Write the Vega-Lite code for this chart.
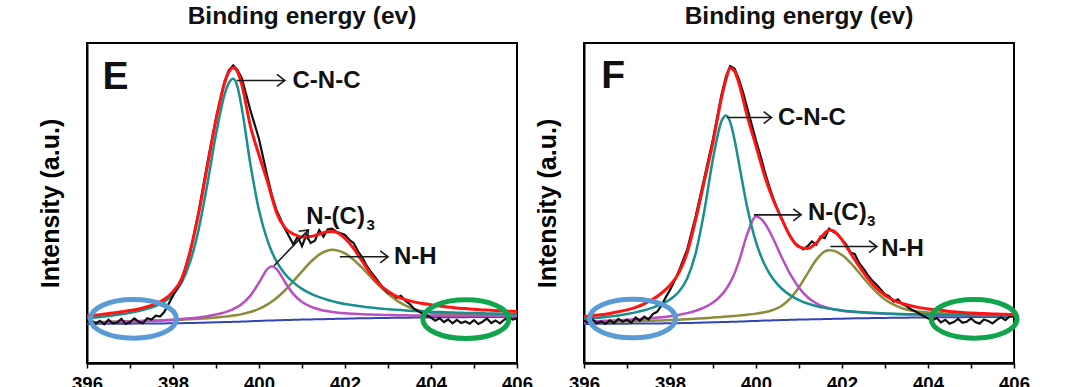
{
"$schema": "https://vega.github.io/schema/vega-lite/v6.json",
"background": "white",
"padding": {"left": 37, "top": 3, "right": 5, "bottom": 5},
"bounds": "flush",
"spacing": 67,
"config": {
  "view": {"stroke": "black", "strokeWidth": 2},
  "font": "Liberation Sans",
  "axis": {"grid": false, "domainColor": "black", "tickColor": "black", "labelColor": "black", "titleColor": "black"},
  "title": {"fontSize": 24.5, "fontWeight": "bold", "color": "#111111", "offset": 13.5, "anchor": "middle", "font": "Liberation Sans"}
},
"datasets": {
  "fitE": [
{"x":396,"b":12.2,"t":14.02,"m":12.65,"o":12.72,"r":14.8},
{"x":396.2,"b":12.22,"t":14.25,"m":12.71,"o":12.77,"r":15.0},
{"x":396.4,"b":12.24,"t":14.52,"m":12.77,"o":12.83,"r":15.3},
{"x":396.6,"b":12.26,"t":14.84,"m":12.83,"o":12.89,"r":15.6},
{"x":396.8,"b":12.28,"t":15.22,"m":12.9,"o":12.95,"r":16.0},
{"x":397,"b":12.3,"t":15.67,"m":12.97,"o":13.01,"r":16.4},
{"x":397.2,"b":12.32,"t":16.22,"m":13.06,"o":13.08,"r":16.9},
{"x":397.4,"b":12.34,"t":16.92,"m":13.15,"o":13.16,"r":17.6},
{"x":397.6,"b":12.36,"t":17.84,"m":13.26,"o":13.24,"r":18.5},
{"x":397.8,"b":12.38,"t":19.17,"m":13.38,"o":13.32,"r":19.9},
{"x":398,"b":12.4,"t":21.33,"m":13.52,"o":13.42,"r":22.3},
{"x":398.2,"b":12.45,"t":25.12,"m":13.72,"o":13.54,"r":26.3},
{"x":398.4,"b":12.5,"t":31.66,"m":13.96,"o":13.68,"r":35.0},
{"x":398.6,"b":12.56,"t":41.98,"m":14.25,"o":13.84,"r":47.0},
{"x":398.8,"b":12.62,"t":55.99,"m":14.62,"o":14.0,"r":61.5},
{"x":399,"b":12.7,"t":71.46,"m":15.13,"o":14.23,"r":76.0},
{"x":399.2,"b":12.78,"t":83.96,"m":15.83,"o":14.49,"r":87.5},
{"x":399.3,"b":12.82,"t":87.57,"m":16.28,"o":14.64,"r":91.0},
{"x":399.4,"b":12.86,"t":88.86,"m":16.85,"o":14.81,"r":92.3},
{"x":399.5,"b":12.9,"t":86.3,"m":17.55,"o":15.02,"r":91.0},
{"x":399.6,"b":12.95,"t":79.65,"m":18.45,"o":15.27,"r":87.0},
{"x":399.8,"b":13.05,"t":62.15,"m":21.06,"o":15.94,"r":74.0},
{"x":400,"b":13.15,"t":47.75,"m":25.1,"o":16.91,"r":65.0},
{"x":400.2,"b":13.25,"t":38.15,"m":29.39,"o":18.31,"r":56.5},
{"x":400.3,"b":13.3,"t":34.7,"m":30.2,"o":19.2,"r":51.8},
{"x":400.4,"b":13.34,"t":31.94,"m":29.48,"o":20.22,"r":47.3},
{"x":400.6,"b":13.42,"t":27.92,"m":25.37,"o":22.66,"r":42.3},
{"x":400.8,"b":13.5,"t":25.2,"m":21.51,"o":25.55,"r":40.3},
{"x":401,"b":13.56,"t":23.16,"m":19.06,"o":28.64,"r":39.4},
{"x":401.2,"b":13.62,"t":21.68,"m":17.61,"o":31.56,"r":39.5},
{"x":401.4,"b":13.68,"t":20.57,"m":16.73,"o":33.87,"r":40.3},
{"x":401.6,"b":13.74,"t":19.71,"m":16.17,"o":35.18,"r":41.0},
{"x":401.7,"b":13.77,"t":19.34,"m":15.97,"o":35.37,"r":41.1},
{"x":401.8,"b":13.8,"t":19.01,"m":15.8,"o":35.26,"r":40.8},
{"x":402,"b":13.86,"t":18.46,"m":15.55,"o":34.23,"r":38.9},
{"x":402.2,"b":13.92,"t":18.02,"m":15.38,"o":32.29,"r":35.8},
{"x":402.4,"b":13.97,"t":17.63,"m":15.24,"o":29.72,"r":31.8},
{"x":402.6,"b":14.02,"t":17.32,"m":15.14,"o":26.88,"r":27.8},
{"x":402.8,"b":14.06,"t":17.04,"m":15.06,"o":24.1,"r":24.6},
{"x":403,"b":14.1,"t":16.81,"m":15.0,"o":21.62,"r":22.4},
{"x":403.2,"b":14.13,"t":16.61,"m":14.94,"o":19.58,"r":20.8},
{"x":403.4,"b":14.16,"t":16.43,"m":14.9,"o":18.02,"r":19.8},
{"x":403.6,"b":14.19,"t":16.27,"m":14.86,"o":16.91,"r":19.1},
{"x":403.8,"b":14.22,"t":16.14,"m":14.84,"o":16.17,"r":18.6},
{"x":404,"b":14.25,"t":16.03,"m":14.82,"o":15.69,"r":18.2},
{"x":404.2,"b":14.27,"t":15.92,"m":14.8,"o":15.39,"r":17.8},
{"x":404.4,"b":14.29,"t":15.82,"m":14.78,"o":15.21,"r":17.5},
{"x":404.6,"b":14.31,"t":15.74,"m":14.76,"o":15.11,"r":17.2},
{"x":404.8,"b":14.33,"t":15.66,"m":14.75,"o":15.04,"r":17.0},
{"x":405,"b":14.35,"t":15.6,"m":14.75,"o":14.98,"r":16.8},
{"x":405.2,"b":14.36,"t":15.53,"m":14.73,"o":14.94,"r":16.6},
{"x":405.4,"b":14.37,"t":15.47,"m":14.72,"o":14.91,"r":16.5},
{"x":405.6,"b":14.38,"t":15.41,"m":14.71,"o":14.88,"r":16.3},
{"x":405.8,"b":14.39,"t":15.36,"m":14.7,"o":14.86,"r":16.2},
{"x":406,"b":14.4,"t":15.33,"m":14.7,"o":14.84,"r":16.1}
  ],
  "fitF": [
{"x":396,"b":12.2,"t":13.76,"m":12.95,"o":12.72,"r":14.5},
{"x":396.2,"b":12.22,"t":13.98,"m":13.03,"o":12.77,"r":14.8},
{"x":396.4,"b":12.24,"t":14.22,"m":13.13,"o":12.83,"r":15.1},
{"x":396.6,"b":12.26,"t":14.52,"m":13.23,"o":12.89,"r":15.5},
{"x":396.8,"b":12.28,"t":14.87,"m":13.35,"o":12.95,"r":16.0},
{"x":397,"b":12.3,"t":15.3,"m":13.48,"o":13.01,"r":16.6},
{"x":397.2,"b":12.32,"t":15.82,"m":13.64,"o":13.08,"r":17.4},
{"x":397.4,"b":12.34,"t":16.48,"m":13.82,"o":13.15,"r":18.5},
{"x":397.6,"b":12.36,"t":17.3,"m":14.03,"o":13.23,"r":19.9},
{"x":397.8,"b":12.38,"t":18.37,"m":14.29,"o":13.32,"r":21.8},
{"x":398,"b":12.4,"t":19.84,"m":14.6,"o":13.41,"r":24.3},
{"x":398.2,"b":12.45,"t":22.17,"m":15.03,"o":13.54,"r":28.0},
{"x":398.4,"b":12.5,"t":26.41,"m":15.58,"o":13.68,"r":34.5},
{"x":398.6,"b":12.56,"t":34.46,"m":16.32,"o":13.83,"r":45.0},
{"x":398.8,"b":12.62,"t":47.69,"m":17.36,"o":13.99,"r":57.0},
{"x":399,"b":12.7,"t":63.84,"m":18.91,"o":14.19,"r":69.0},
{"x":399.2,"b":12.78,"t":75.6,"m":21.3,"o":14.39,"r":83.0},
{"x":399.3,"b":12.82,"t":77.32,"m":22.99,"o":14.5,"r":88.5},
{"x":399.4,"b":12.86,"t":75.29,"m":25.19,"o":14.61,"r":92.2},
{"x":399.5,"b":12.9,"t":69.87,"m":28.0,"o":14.72,"r":91.2},
{"x":399.6,"b":12.95,"t":62.66,"m":31.58,"o":14.84,"r":87.5},
{"x":399.8,"b":13.05,"t":48.36,"m":40.43,"o":15.11,"r":77.0},
{"x":400,"b":13.15,"t":37.77,"m":45.75,"o":15.43,"r":67.8},
{"x":400.2,"b":13.25,"t":30.79,"m":43.78,"o":15.86,"r":58.5},
{"x":400.3,"b":13.3,"t":28.28,"m":41.55,"o":16.18,"r":54.5},
{"x":400.4,"b":13.34,"t":26.24,"m":38.82,"o":16.59,"r":51.0},
{"x":400.6,"b":13.42,"t":23.21,"m":32.98,"o":17.9,"r":45.0},
{"x":400.8,"b":13.5,"t":21.14,"m":27.67,"o":20.2,"r":39.5},
{"x":401,"b":13.56,"t":19.67,"m":23.5,"o":23.67,"r":36.3},
{"x":401.2,"b":13.62,"t":18.61,"m":20.56,"o":28.01,"r":35.8},
{"x":401.4,"b":13.68,"t":17.82,"m":18.66,"o":32.23,"r":37.5},
{"x":401.6,"b":13.74,"t":17.23,"m":17.49,"o":34.89,"r":40.6},
{"x":401.7,"b":13.77,"t":16.99,"m":17.09,"o":35.27,"r":41.6},
{"x":401.8,"b":13.8,"t":16.78,"m":16.78,"o":35.12,"r":41.3},
{"x":402,"b":13.86,"t":16.43,"m":16.34,"o":33.76,"r":38.5},
{"x":402.2,"b":13.92,"t":16.16,"m":16.04,"o":31.29,"r":34.3},
{"x":402.4,"b":13.97,"t":15.94,"m":15.82,"o":28.19,"r":30.2},
{"x":402.6,"b":14.02,"t":15.76,"m":15.66,"o":25.0,"r":26.5},
{"x":402.8,"b":14.06,"t":15.61,"m":15.52,"o":22.15,"r":23.4},
{"x":403,"b":14.1,"t":15.49,"m":15.41,"o":19.87,"r":21.2},
{"x":403.2,"b":14.13,"t":15.39,"m":15.32,"o":18.21,"r":19.6},
{"x":403.4,"b":14.16,"t":15.3,"m":15.24,"o":17.11,"r":18.6},
{"x":403.6,"b":14.19,"t":15.23,"m":15.17,"o":16.42,"r":17.9},
{"x":403.8,"b":14.22,"t":15.17,"m":15.12,"o":16.01,"r":17.3},
{"x":404,"b":14.25,"t":15.12,"m":15.08,"o":15.77,"r":16.9},
{"x":404.2,"b":14.27,"t":15.07,"m":15.03,"o":15.61,"r":16.6},
{"x":404.4,"b":14.29,"t":15.03,"m":14.99,"o":15.5,"r":16.3},
{"x":404.6,"b":14.31,"t":15.0,"m":14.97,"o":15.41,"r":16.0},
{"x":404.8,"b":14.33,"t":14.97,"m":14.94,"o":15.35,"r":15.8},
{"x":405,"b":14.35,"t":14.95,"m":14.91,"o":15.29,"r":15.6},
{"x":405.2,"b":14.36,"t":14.92,"m":14.89,"o":15.23,"r":15.5},
{"x":405.4,"b":14.37,"t":14.89,"m":14.86,"o":15.18,"r":15.4},
{"x":405.6,"b":14.38,"t":14.87,"m":14.84,"o":15.13,"r":15.3},
{"x":405.8,"b":14.39,"t":14.85,"m":14.82,"o":15.09,"r":15.2},
{"x":406,"b":14.4,"t":14.83,"m":14.81,"o":15.05,"r":15.1}
  ],
  "expE": [
{"x":396.0,"y":12.6},{"x":396.1,"y":13.4},{"x":396.2,"y":12.3},{"x":396.3,"y":13.2},{"x":396.4,"y":12.1},{"x":396.5,"y":13.5},{"x":396.6,"y":12.4},{"x":396.7,"y":12.6},{"x":396.8,"y":13.8},{"x":396.9,"y":12.2},
{"x":397.0,"y":12.8},{"x":397.1,"y":13.9},{"x":397.2,"y":12.9},{"x":397.3,"y":12.4},{"x":397.4,"y":14.0},{"x":397.5,"y":13.6},{"x":397.6,"y":14.8},{"x":397.7,"y":14.5},{"x":397.8,"y":16.0},{"x":397.9,"y":18.5},
{"x":398.0,"y":21.0},{"x":398.1,"y":23.5},{"x":398.2,"y":25.8},{"x":398.4,"y":34.5},{"x":398.6,"y":47.5},{"x":398.8,"y":62.5},{"x":399.0,"y":76.5},{"x":399.2,"y":88.0},{"x":399.3,"y":91.5},{"x":399.4,"y":93.0},
{"x":399.5,"y":91.5},{"x":399.6,"y":89.0},{"x":399.7,"y":84.0},{"x":399.8,"y":79.0},{"x":399.9,"y":74.5},{"x":400.0,"y":70.0},{"x":400.1,"y":64.0},{"x":400.2,"y":58.0},{"x":400.3,"y":52.5},{"x":400.4,"y":48.0},
{"x":400.5,"y":45.0},{"x":400.6,"y":42.0},{"x":400.7,"y":39.5},{"x":400.8,"y":37.0},{"x":400.9,"y":39.5},{"x":401.0,"y":36.5},{"x":401.1,"y":40.0},{"x":401.2,"y":37.5},{"x":401.3,"y":38.2},{"x":401.4,"y":41.5},
{"x":401.5,"y":39.5},{"x":401.6,"y":41.8},{"x":401.7,"y":42.0},{"x":401.8,"y":41.0},{"x":401.9,"y":40.5},{"x":402.0,"y":40.0},{"x":402.1,"y":38.5},{"x":402.2,"y":37.5},{"x":402.3,"y":35.0},{"x":402.4,"y":33.0},
{"x":402.5,"y":30.5},{"x":402.6,"y":28.5},{"x":402.7,"y":26.8},{"x":402.8,"y":25.0},{"x":402.9,"y":23.2},{"x":403.0,"y":22.0},{"x":403.1,"y":21.5},{"x":403.2,"y":20.4},{"x":403.3,"y":21.0},{"x":403.4,"y":19.5},
{"x":403.5,"y":18.5},{"x":403.6,"y":17.0},{"x":403.8,"y":15.5},{"x":404.0,"y":14.2},{"x":404.1,"y":13.2},{"x":404.2,"y":14.0},{"x":404.3,"y":12.8},{"x":404.4,"y":13.6},{"x":404.5,"y":12.4},{"x":404.6,"y":13.5},
{"x":404.7,"y":12.5},{"x":404.8,"y":13.0},{"x":404.9,"y":12.3},{"x":405.0,"y":13.4},{"x":405.1,"y":12.2},{"x":405.2,"y":12.9},{"x":405.3,"y":13.9},{"x":405.4,"y":12.5},{"x":405.5,"y":13.3},{"x":405.6,"y":12.4},
{"x":405.7,"y":13.5},{"x":405.8,"y":14.2},{"x":405.9,"y":13.6},{"x":406.0,"y":14.0}
  ],
  "expF": [
{"x":396.0,"y":13.3},{"x":396.1,"y":12.6},{"x":396.2,"y":13.6},{"x":396.3,"y":12.4},{"x":396.4,"y":13.0},{"x":396.5,"y":12.2},{"x":396.6,"y":13.3},{"x":396.7,"y":12.5},{"x":396.8,"y":13.8},{"x":396.9,"y":12.9},
{"x":397.0,"y":13.5},{"x":397.1,"y":12.6},{"x":397.2,"y":14.2},{"x":397.3,"y":13.2},{"x":397.4,"y":14.5},{"x":397.5,"y":13.6},{"x":397.6,"y":15.3},{"x":397.7,"y":16.0},{"x":397.8,"y":17.9},{"x":397.9,"y":20.5},
{"x":398.0,"y":22.8},{"x":398.1,"y":25.5},{"x":398.2,"y":28.5},{"x":398.4,"y":35.5},{"x":398.6,"y":46.0},{"x":398.8,"y":58.0},{"x":399.0,"y":70.0},{"x":399.2,"y":84.0},{"x":399.3,"y":89.5},{"x":399.4,"y":92.8},
{"x":399.5,"y":92.0},{"x":399.6,"y":88.8},{"x":399.7,"y":84.5},{"x":399.8,"y":79.5},{"x":399.9,"y":74.5},{"x":400.0,"y":69.5},{"x":400.1,"y":65.0},{"x":400.2,"y":60.0},{"x":400.3,"y":55.5},{"x":400.4,"y":51.5},
{"x":400.5,"y":48.0},{"x":400.6,"y":45.0},{"x":400.7,"y":42.0},{"x":400.8,"y":39.5},{"x":400.9,"y":37.5},{"x":401.0,"y":36.5},{"x":401.1,"y":35.5},{"x":401.2,"y":36.5},{"x":401.3,"y":38.0},{"x":401.4,"y":37.0},
{"x":401.5,"y":39.5},{"x":401.6,"y":39.0},{"x":401.7,"y":42.0},{"x":401.8,"y":41.0},{"x":401.9,"y":40.2},{"x":402.0,"y":38.5},{"x":402.1,"y":37.0},{"x":402.2,"y":34.5},{"x":402.3,"y":34.0},{"x":402.4,"y":31.2},
{"x":402.5,"y":29.5},{"x":402.6,"y":27.5},{"x":402.7,"y":25.8},{"x":402.8,"y":24.5},{"x":402.9,"y":23.0},{"x":403.0,"y":21.5},{"x":403.1,"y":20.8},{"x":403.2,"y":19.2},{"x":403.3,"y":19.9},{"x":403.4,"y":18.4},
{"x":403.5,"y":17.8},{"x":403.6,"y":16.8},{"x":403.7,"y":16.2},{"x":403.8,"y":15.4},{"x":403.9,"y":14.6},{"x":404.0,"y":14.0},{"x":404.1,"y":13.2},{"x":404.2,"y":14.1},{"x":404.3,"y":12.7},{"x":404.4,"y":13.5},
{"x":404.5,"y":12.3},{"x":404.6,"y":12.8},{"x":404.7,"y":13.8},{"x":404.8,"y":12.6},{"x":404.9,"y":12.9},{"x":405.0,"y":13.9},{"x":405.1,"y":12.8},{"x":405.2,"y":12.3},{"x":405.3,"y":13.6},{"x":405.4,"y":13.1},
{"x":405.5,"y":12.4},{"x":405.6,"y":13.5},{"x":405.7,"y":14.3},{"x":405.8,"y":13.4},{"x":405.9,"y":14.6},{"x":406.0,"y":14.8}
  ],
  "arrE": [{"x":399.48,"y":88.3,"x2":400.6,"y2":88.3,"ang":0},{"x":400.35,"y":30.4,"x2":401.15,"y2":41.6,"ang":314},{"x":401.88,"y":33.2,"x2":403.0,"y2":33.2,"ang":0}],
  "arrF": [{"x":399.32,"y":76.7,"x2":400.36,"y2":76.7,"ang":0},{"x":399.95,"y":46.3,"x2":401.05,"y2":46.3,"ang":0},{"x":401.73,"y":36.4,"x2":402.81,"y2":36.4,"ang":0}],
  "lblE": [{"x":400.78,"y":88.0,"t":"C-N-C"},{"x":401.1,"y":45.5,"t":"N-(C)"},{"x":403.14,"y":33.2,"t":"N-H"}],
  "subE": [{"x":402.5,"y":43.0,"t":"3"}],
  "lblF": [{"x":400.51,"y":76.7,"t":"C-N-C"},{"x":401.21,"y":46.9,"t":"N-(C)"},{"x":402.91,"y":35.6,"t":"N-H"}],
  "subF": [{"x":402.58,"y":44.4,"t":"3"}],
  "letE": [{"x":396.36,"y":85.6,"t":"E"}],
  "letF": [{"x":396.4,"y":86.0,"t":"F"}],
  "ellE": [{"x":397.08,"y":13.8,"k":"left"},{"x":404.81,"y":13.7,"k":"right"}],
  "ellF": [{"x":397.13,"y":13.9,"k":"left"},{"x":405.07,"y":13.8,"k":"right"}]
},
"hconcat": [
{
  "width": 430, "height": 320,
  "title": {"text": "Binding energy (ev)"},
  "layer": [
    {"data": {"name": "fitE"}, "mark": {"type": "line", "color": "#3344bb", "strokeWidth": 2, "interpolate": "monotone"},
     "encoding": {
       "x": {"field": "x", "type": "quantitative", "scale": {"domain": [396, 406], "nice": false},
             "axis": {"title": null, "values": [396,397,398,399,400,401,402,403,404,405,406], "format": "d", "labelExpr": "datum.value % 2 === 0 ? datum.label : ''", "tickSize": 5, "tickWidth": 1.5, "labelFontSize": 18.5, "labelFontWeight": "bold", "labelPadding": 6.5, "labelFlush": false, "labelOverlap": false, "domainWidth": 2.5}},
       "y": {"field": "b", "type": "quantitative", "scale": {"domain": [0, 100], "nice": false},
             "axis": {"title": "Intensity (a.u.)", "labels": false, "ticks": false, "titleFontSize": 25, "titleFontWeight": "bold", "titlePadding": 24, "domainWidth": 2}}}},
    {"data": {"name": "fitE"}, "mark": {"type": "line", "color": "#8c8c3a", "strokeWidth": 2.5, "interpolate": "monotone"},
     "encoding": {"x": {"field": "x", "type": "quantitative", "scale": {"domain": [396, 406]}}, "y": {"field": "o", "type": "quantitative", "scale": {"domain": [0, 100]}}}},
    {"data": {"name": "fitE"}, "mark": {"type": "line", "color": "#b94fc2", "strokeWidth": 2.5, "interpolate": "monotone"},
     "encoding": {"x": {"field": "x", "type": "quantitative", "scale": {"domain": [396, 406]}}, "y": {"field": "m", "type": "quantitative", "scale": {"domain": [0, 100]}}}},
    {"data": {"name": "fitE"}, "mark": {"type": "line", "color": "#178f8f", "strokeWidth": 2.5, "interpolate": "monotone"},
     "encoding": {"x": {"field": "x", "type": "quantitative", "scale": {"domain": [396, 406]}}, "y": {"field": "t", "type": "quantitative", "scale": {"domain": [0, 100]}}}},
    {"data": {"name": "expE"}, "mark": {"type": "line", "color": "#111111", "strokeWidth": 2.2},
     "encoding": {"x": {"field": "x", "type": "quantitative", "scale": {"domain": [396, 406]}}, "y": {"field": "y", "type": "quantitative", "scale": {"domain": [0, 100]}}}},
    {"data": {"name": "fitE"}, "mark": {"type": "line", "color": "#ff1414", "strokeWidth": 3, "interpolate": "monotone"},
     "encoding": {"x": {"field": "x", "type": "quantitative", "scale": {"domain": [396, 406]}}, "y": {"field": "r", "type": "quantitative", "scale": {"domain": [0, 100]}}}},
    {"data": {"name": "arrE"}, "mark": {"type": "rule", "color": "#1a1a1a", "strokeWidth": 1.6},
     "encoding": {"x": {"field": "x", "type": "quantitative", "scale": {"domain": [396, 406]}}, "y": {"field": "y", "type": "quantitative", "scale": {"domain": [0, 100]}}, "x2": {"field": "x2"}, "y2": {"field": "y2"}}},
    {"data": {"name": "arrE"}, "mark": {"type": "point", "shape": "M -1.3 -1 L 0 0 L -1.3 1", "filled": false, "color": "#1a1a1a", "strokeWidth": 1.6, "size": 144, "opacity": 1},
     "encoding": {"x": {"field": "x2", "type": "quantitative", "scale": {"domain": [396, 406]}}, "y": {"field": "y2", "type": "quantitative", "scale": {"domain": [0, 100]}}, "angle": {"field": "ang", "type": "quantitative", "scale": null}}},
    {"data": {"name": "lblE"}, "mark": {"type": "text", "align": "left", "baseline": "middle", "fontSize": 24, "fontWeight": "bold", "color": "#111111"},
     "encoding": {"x": {"field": "x", "type": "quantitative", "scale": {"domain": [396, 406]}}, "y": {"field": "y", "type": "quantitative", "scale": {"domain": [0, 100]}}, "text": {"field": "t"}}},
    {"data": {"name": "subE"}, "mark": {"type": "text", "align": "left", "baseline": "middle", "fontSize": 15, "fontWeight": "bold", "color": "#111111"},
     "encoding": {"x": {"field": "x", "type": "quantitative", "scale": {"domain": [396, 406]}}, "y": {"field": "y", "type": "quantitative", "scale": {"domain": [0, 100]}}, "text": {"field": "t"}}},
    {"data": {"name": "letE"}, "mark": {"type": "text", "align": "left", "baseline": "alphabetic", "fontSize": 39, "fontWeight": "bold", "color": "#111111"},
     "encoding": {"x": {"field": "x", "type": "quantitative", "scale": {"domain": [396, 406]}}, "y": {"field": "y", "type": "quantitative", "scale": {"domain": [0, 100]}}, "text": {"field": "t"}}},
    {"data": {"name": "ellE"}, "mark": {"type": "point", "shape": "M 1 0 C 1 0.2485 0.5523 0.45 0 0.45 C -0.5523 0.45 -1 0.2485 -1 0 C -1 -0.2485 -0.5523 -0.45 0 -0.45 C 0.5523 -0.45 1 -0.2485 1 0 Z", "filled": false, "strokeWidth": 5, "size": 7400, "opacity": 1},
     "encoding": {"x": {"field": "x", "type": "quantitative", "scale": {"domain": [396, 406]}}, "y": {"field": "y", "type": "quantitative", "scale": {"domain": [0, 100]}}, "color": {"field": "k", "type": "nominal", "scale": {"domain": ["left", "right"], "range": ["#5b9bd5", "#10a54d"]}, "legend": null}}}
  ]
},
{
  "width": 430, "height": 320,
  "title": {"text": "Binding energy (ev)"},
  "layer": [
    {"data": {"name": "fitF"}, "mark": {"type": "line", "color": "#3344bb", "strokeWidth": 2, "interpolate": "monotone"},
     "encoding": {
       "x": {"field": "x", "type": "quantitative", "scale": {"domain": [396, 406], "nice": false},
             "axis": {"title": null, "values": [396,397,398,399,400,401,402,403,404,405,406], "format": "d", "labelExpr": "datum.value % 2 === 0 ? datum.label : ''", "tickSize": 5, "tickWidth": 1.5, "labelFontSize": 18.5, "labelFontWeight": "bold", "labelPadding": 6.5, "labelFlush": false, "labelOverlap": false, "domainWidth": 2.5}},
       "y": {"field": "b", "type": "quantitative", "scale": {"domain": [0, 100], "nice": false},
             "axis": {"title": "Intensity (a.u.)", "labels": false, "ticks": false, "titleFontSize": 25, "titleFontWeight": "bold", "titlePadding": 24, "domainWidth": 2}}}},
    {"data": {"name": "fitF"}, "mark": {"type": "line", "color": "#8c8c3a", "strokeWidth": 2.5, "interpolate": "monotone"},
     "encoding": {"x": {"field": "x", "type": "quantitative", "scale": {"domain": [396, 406]}}, "y": {"field": "o", "type": "quantitative", "scale": {"domain": [0, 100]}}}},
    {"data": {"name": "fitF"}, "mark": {"type": "line", "color": "#b94fc2", "strokeWidth": 2.5, "interpolate": "monotone"},
     "encoding": {"x": {"field": "x", "type": "quantitative", "scale": {"domain": [396, 406]}}, "y": {"field": "m", "type": "quantitative", "scale": {"domain": [0, 100]}}}},
    {"data": {"name": "fitF"}, "mark": {"type": "line", "color": "#178f8f", "strokeWidth": 2.5, "interpolate": "monotone"},
     "encoding": {"x": {"field": "x", "type": "quantitative", "scale": {"domain": [396, 406]}}, "y": {"field": "t", "type": "quantitative", "scale": {"domain": [0, 100]}}}},
    {"data": {"name": "expF"}, "mark": {"type": "line", "color": "#111111", "strokeWidth": 2.2},
     "encoding": {"x": {"field": "x", "type": "quantitative", "scale": {"domain": [396, 406]}}, "y": {"field": "y", "type": "quantitative", "scale": {"domain": [0, 100]}}}},
    {"data": {"name": "fitF"}, "mark": {"type": "line", "color": "#ff1414", "strokeWidth": 3, "interpolate": "monotone"},
     "encoding": {"x": {"field": "x", "type": "quantitative", "scale": {"domain": [396, 406]}}, "y": {"field": "r", "type": "quantitative", "scale": {"domain": [0, 100]}}}},
    {"data": {"name": "arrF"}, "mark": {"type": "rule", "color": "#1a1a1a", "strokeWidth": 1.6},
     "encoding": {"x": {"field": "x", "type": "quantitative", "scale": {"domain": [396, 406]}}, "y": {"field": "y", "type": "quantitative", "scale": {"domain": [0, 100]}}, "x2": {"field": "x2"}, "y2": {"field": "y2"}}},
    {"data": {"name": "arrF"}, "mark": {"type": "point", "shape": "M -1.3 -1 L 0 0 L -1.3 1", "filled": false, "color": "#1a1a1a", "strokeWidth": 1.6, "size": 144, "opacity": 1},
     "encoding": {"x": {"field": "x2", "type": "quantitative", "scale": {"domain": [396, 406]}}, "y": {"field": "y2", "type": "quantitative", "scale": {"domain": [0, 100]}}, "angle": {"field": "ang", "type": "quantitative", "scale": null}}},
    {"data": {"name": "lblF"}, "mark": {"type": "text", "align": "left", "baseline": "middle", "fontSize": 24, "fontWeight": "bold", "color": "#111111"},
     "encoding": {"x": {"field": "x", "type": "quantitative", "scale": {"domain": [396, 406]}}, "y": {"field": "y", "type": "quantitative", "scale": {"domain": [0, 100]}}, "text": {"field": "t"}}},
    {"data": {"name": "subF"}, "mark": {"type": "text", "align": "left", "baseline": "middle", "fontSize": 15, "fontWeight": "bold", "color": "#111111"},
     "encoding": {"x": {"field": "x", "type": "quantitative", "scale": {"domain": [396, 406]}}, "y": {"field": "y", "type": "quantitative", "scale": {"domain": [0, 100]}}, "text": {"field": "t"}}},
    {"data": {"name": "letF"}, "mark": {"type": "text", "align": "left", "baseline": "alphabetic", "fontSize": 39, "fontWeight": "bold", "color": "#111111"},
     "encoding": {"x": {"field": "x", "type": "quantitative", "scale": {"domain": [396, 406]}}, "y": {"field": "y", "type": "quantitative", "scale": {"domain": [0, 100]}}, "text": {"field": "t"}}},
    {"data": {"name": "ellF"}, "mark": {"type": "point", "shape": "M 1 0 C 1 0.2485 0.5523 0.45 0 0.45 C -0.5523 0.45 -1 0.2485 -1 0 C -1 -0.2485 -0.5523 -0.45 0 -0.45 C 0.5523 -0.45 1 -0.2485 1 0 Z", "filled": false, "strokeWidth": 5, "size": 7400, "opacity": 1},
     "encoding": {"x": {"field": "x", "type": "quantitative", "scale": {"domain": [396, 406]}}, "y": {"field": "y", "type": "quantitative", "scale": {"domain": [0, 100]}}, "color": {"field": "k", "type": "nominal", "scale": {"domain": ["left", "right"], "range": ["#5b9bd5", "#10a54d"]}, "legend": null}}}
  ]
}
]
}
